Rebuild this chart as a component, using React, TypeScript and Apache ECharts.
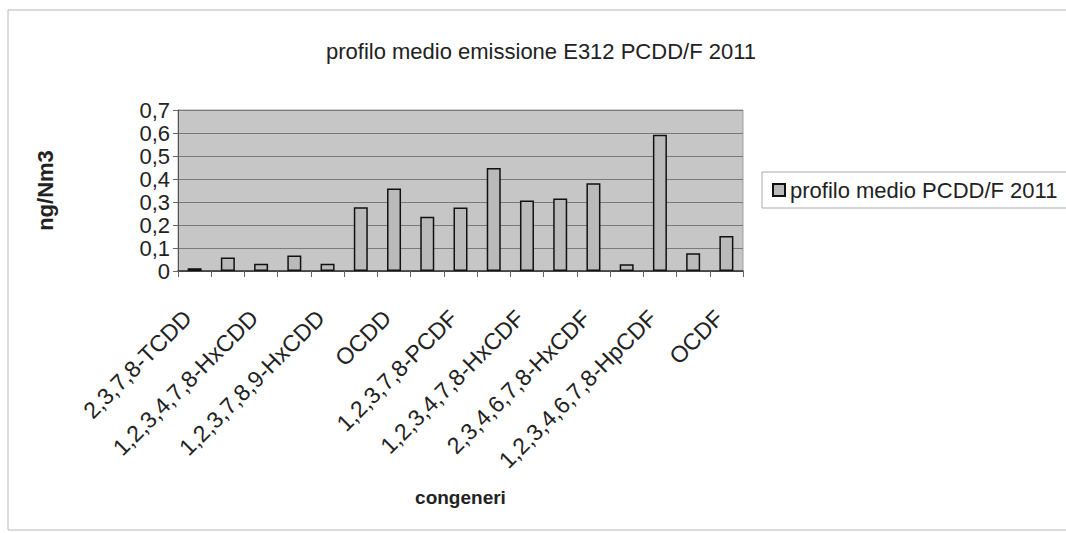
import React, { useEffect, useRef } from "react";
import * as echarts from "echarts";

const categories = [
  "2,3,7,8-TCDD",
  "1,2,3,7,8-PeCDD",
  "1,2,3,4,7,8-HxCDD",
  "1,2,3,6,7,8-HxCDD",
  "1,2,3,7,8,9-HxCDD",
  "1,2,3,4,6,7,8-HpCDD",
  "OCDD",
  "2,3,7,8-TCDF",
  "1,2,3,7,8-PCDF",
  "2,3,4,7,8-PCDF",
  "1,2,3,4,7,8-HxCDF",
  "1,2,3,6,7,8-HxCDF",
  "2,3,4,6,7,8-HxCDF",
  "1,2,3,7,8,9-HxCDF",
  "1,2,3,4,6,7,8-HpCDF",
  "1,2,3,4,7,8,9-HpCDF",
  "OCDF",
];

const profileValues = [
  0.012, 0.059, 0.032, 0.067, 0.032, 0.277, 0.359, 0.236, 0.276, 0.448, 0.306,
  0.315, 0.381, 0.029, 0.592, 0.077, 0.152,
];

const seriesName = "profilo medio PCDD/F 2011";
const chartTitle = "profilo medio emissione E312 PCDD/F 2011";
const xTitle = "congeneri";
const yTitle = "ng/Nm3";

export default function App() {
  const ref = useRef<HTMLDivElement>(null);

  useEffect(() => {
    if (!ref.current) return;
    const chart = echarts.init(ref.current, null, { renderer: "svg" });
    const font = "Liberation Sans, Arial, sans-serif";
    chart.setOption({
      animation: false,
      backgroundColor: "#ffffff",
      textStyle: { fontFamily: font },
      title: {
        text: chartTitle,
        left: 536,
        top: 35,
        textAlign: "center",
        textStyle: { fontFamily: font, fontSize: 22, fontWeight: "normal", color: "#222" },
      },
      graphic: [
        {
          type: "rect",
          shape: { x: 8, y: 10, width: 1080, height: 520 },
          style: { fill: "none", stroke: "#b8b8b8", lineWidth: 1 },
          silent: true,
        },
      ],
      legend: {
        left: 762,
        top: 172,
        orient: "vertical",
        backgroundColor: "#ffffff",
        borderColor: "#aaaaaa",
        borderWidth: 1,
        padding: [7, 40, 7, 10],
        itemWidth: 12,
        itemHeight: 12,
        itemGap: 6,
        icon: "rect",
        textStyle: { fontFamily: font, fontSize: 22, color: "#222" },
        data: [seriesName],
      },
      grid: {
        left: 178,
        right: 323,
        top: 110,
        bottom: 262,
        show: true,
        backgroundColor: "#c6c6c6",
        borderColor: "#a0a0a0",
        borderWidth: 1,
        containLabel: false,
      },
      xAxis: {
        type: "category",
        data: categories,
        boundaryGap: true,
        name: xTitle,
        nameLocation: "middle",
        nameGap: 217,
        nameMoveOverlap: false,
        nameTextStyle: { fontFamily: font, fontSize: 19, fontWeight: "bold", color: "#222" },
        axisLine: { show: true, lineStyle: { color: "#333", width: 1.5 } },
        axisTick: { show: true, length: 6, lineStyle: { color: "#666" }, interval: 0 },
        axisLabel: {
          interval: 1,
          rotate: 45,
          margin: 36,
          padding: [0, 10, 0, 0],
          fontFamily: font,
          fontSize: 23,
          color: "#222",
        },
        splitLine: { show: false },
      },
      yAxis: {
        type: "value",
        min: 0,
        max: 0.7,
        interval: 0.1,
        name: yTitle,
        nameLocation: "middle",
        nameGap: 122,
        nameMoveOverlap: false,
        nameRotate: 90,
        nameTextStyle: { fontFamily: font, fontSize: 22, fontWeight: "bold", color: "#222" },
        axisLine: { show: true, lineStyle: { color: "#555", width: 1 } },
        axisTick: { show: true, length: 5, lineStyle: { color: "#666" } },
        axisLabel: {
          margin: 8,
          fontFamily: font,
          fontSize: 22,
          color: "#222",
          formatter: (v: number) => v.toFixed(1).replace(".", ",").replace(/^0,0$/, "0"),
        },
        splitLine: { show: true, lineStyle: { color: "#7a7a7a", width: 1 } },
      },
      series: [
        {
          name: seriesName,
          type: "bar",
          data: profileValues,
          barWidth: 14,
          itemStyle: { color: "#bababa", borderColor: "#111", borderWidth: 1.5 },
        },
      ],
    });
    return () => chart.dispose();
  }, []);

  return (
    <div
      ref={ref}
      style={{ position: "fixed", left: 0, top: 0, width: 1066, height: 533 }}
    />
  );
}
